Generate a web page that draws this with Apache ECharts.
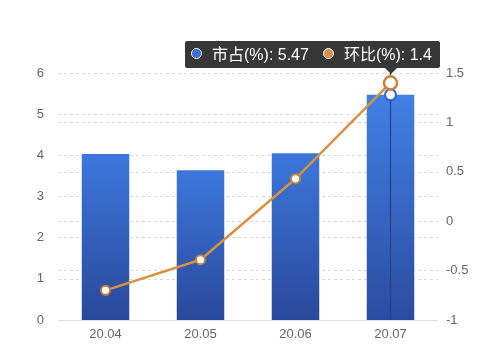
<!DOCTYPE html>
<html><head><meta charset="utf-8">
<script src="https://cdn.jsdelivr.net/npm/echarts@6/dist/echarts.min.js"></script>
<style>html,body{margin:0;padding:0;background:#fff}#c{width:500px;height:354px}</style>
</head><body><div id="c"></div>
<script>
const categories = ['20.04', '20.05', '20.06', '20.07'];
const shareValues = [4.03, 3.64, 4.05, 5.47];
const momValues = [-0.70, -0.39, 0.43, 1.4];
const shareName = '市占(%)';
const momName = '环比(%)';
const activeIndex = 3;

const FONT = '"Liberation Sans", Arial, "Noto Sans CJK SC", sans-serif';
const chart = echarts.init(document.getElementById('c'));
const gridLeft = 58, gridRight = 62, gridTop = 73, gridBottom = 34;

function dot(color) {
  return '<span style="display:inline-block;width:9px;height:9px;border-radius:50%;background:' + color +
    ';border:1.5px solid #fff;margin-right:10px;vertical-align:1px"></span>';
}

chart.setOption({
  animation: false,
  grid: { left: gridLeft, right: gridRight, top: gridTop, bottom: gridBottom },
  tooltip: {
    trigger: 'axis',
    alwaysShowContent: true,
    transitionDuration: 0,
    showDelay: 0,
    backgroundColor: 'rgba(38,38,38,0.92)',
    borderWidth: 0,
    borderRadius: 2,
    padding: [3, 8, 3, 6],
    extraCssText: 'box-shadow:none;overflow:visible;',
    textStyle: { color: '#fff', fontSize: 16, fontFamily: FONT },
    axisPointer: {
      type: 'line',
      lineStyle: { color: '#23418a', width: 1.2, type: 'solid' },
      z: 3
    },
    formatter: function (params) {
      const i = params[0].dataIndex;
      return '<div style="position:relative;white-space:nowrap;line-height:21px;font-family:' + FONT.replace(/"/g, "'") + '">' +
        dot('#3a6fd8') + shareName + ': ' + shareValues[i] +
        '<span style="display:inline-block;width:14px"></span>' +
        dot('#d1934a') + momName + ': ' + momValues[i] +
        '<span class="arr" style="position:absolute;bottom:-9px;left:0;width:0;height:0;border-left:6px solid transparent;border-right:6px solid transparent;border-top:6px solid rgba(38,38,38,0.92)"></span>' +
        '</div>';
    },
    position: function (point, params, dom, rect, size) {
      const w = size.contentSize[0], h = size.contentSize[1];
      const right = 500 - gridRight + 2;
      const left = right - w;
      const top = gridTop - h - 5;
      const i = Array.isArray(params) ? params[0].dataIndex : params.dataIndex;
      const px = chart.convertToPixel({ xAxisIndex: 0 }, categories[i]);
      const arr = dom.querySelector('.arr');
      if (arr) arr.style.left = (px - left - 6 - 6) + 'px';
      return [left, top];
    }
  },
  xAxis: {
    type: 'category',
    data: categories,
    axisTick: { show: false },
    axisLine: { lineStyle: { color: '#dcdcdc', width: 1 } },
    axisLabel: { color: '#666', fontSize: 13, margin: 8, fontFamily: FONT }
  },
  yAxis: [
    {
      type: 'value', min: 0, max: 6, interval: 1,
      axisLabel: { color: '#666', fontSize: 13, margin: 14, fontFamily: FONT },
      axisLine: { show: false }, axisTick: { show: false },
      splitLine: { lineStyle: { color: '#d8d8d8', type: [3, 3], width: 1 } }
    },
    {
      type: 'value', min: -1, max: 1.5, interval: 0.5,
      axisLabel: { color: '#666', fontSize: 13, margin: 8, fontFamily: FONT },
      axisLine: { show: false }, axisTick: { show: false },
      splitLine: { show: true, lineStyle: { color: '#d8d8d8', type: [3, 3], width: 1 } }
    }
  ],
  series: [
    {
      name: shareName,
      type: 'bar',
      data: shareValues,
      barWidth: '50%',
      yAxisIndex: 0,
      z: 2,
      itemStyle: {
        color: new echarts.graphic.LinearGradient(0, 0, 0, 1, [
          { offset: 0, color: '#3c77dc' },
          { offset: 1, color: '#29489a' }
        ])
      },
      emphasis: {
        itemStyle: {
          color: new echarts.graphic.LinearGradient(0, 0, 0, 1, [
            { offset: 0, color: '#4280e4' },
            { offset: 1, color: '#2a4ca0' }
          ])
        }
      }
    },
    {
      name: shareName + '_pt',
      type: 'line',
      data: shareValues,
      yAxisIndex: 0,
      showSymbol: false,
      symbol: 'circle',
      symbolSize: 11,
      lineStyle: { width: 0, opacity: 0 },
      itemStyle: { color: '#fff', borderColor: '#2f63c8', borderWidth: 2 },
      emphasis: { scale: false, itemStyle: { color: '#fff', borderColor: '#2f63c8', borderWidth: 2 } },
      z: 4
    },
    {
      name: momName,
      type: 'line',
      data: momValues,
      yAxisIndex: 1,
      symbol: 'circle',
      symbolSize: 9,
      z: 5,
      lineStyle: { color: '#c5843a', width: 2.5 },
      itemStyle: { color: '#fff', borderColor: '#c5843a', borderWidth: 2 },
      emphasis: { scale: 1.45, itemStyle: { color: '#fff', borderColor: '#c5843a', borderWidth: 2.5 }, lineStyle: { width: 2.5 } }
    }
  ]
});
chart.dispatchAction({ type: 'showTip', seriesIndex: 2, dataIndex: activeIndex });
</script></body></html>
